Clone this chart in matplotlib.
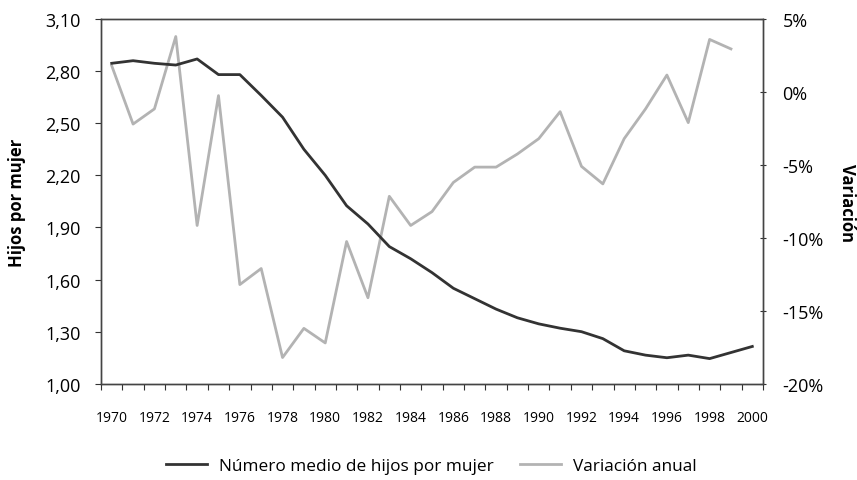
import matplotlib.pyplot as plt
from matplotlib import font_manager
import numpy as np

plt.rcParams['font.family'] = ['Open Sans', 'DejaVu Sans']

years = list(range(1970, 2001))
hijos = [2.845, 2.86, 2.845, 2.835, 2.87, 2.78, 2.78, 2.66, 2.535, 2.35,
         2.20, 2.025, 1.92, 1.79, 1.72, 1.64, 1.55, 1.49, 1.43, 1.38,
         1.345, 1.32, 1.30, 1.26, 1.19, 1.165, 1.15, 1.165, 1.145, 1.18,
         1.215]
variacion = [1.8, -2.2, -1.16, 3.8, -9.15, -0.25, -13.2, -12.1, -18.2, -16.2,
             -17.2, -10.25, -14.1, -7.15, -9.15, -8.2, -6.2, -5.15, -5.15, -4.25,
             -3.2, -1.35, -5.1, -6.3, -3.2, -1.16, 1.16, -2.1, 3.6, 2.95]
left_ticks = [1.00, 1.30, 1.60, 1.90, 2.20, 2.50, 2.80, 3.10]
right_ticks = [-20, -15, -10, -5, 0, 5]

# narrow font for the year labels if there is one
names = {f.name for f in font_manager.fontManager.ttflist}
if 'Liberation Sans Narrow' in names:
    xfont, xsize = 'Liberation Sans Narrow', 12
else:
    xfont, xsize = 'Open Sans', 10

fig = plt.figure(figsize=(8.57, 4.81), dpi=100)
ax = fig.add_axes([0.1179, 0.2, 0.7724, 0.7584])
ax2 = ax.twinx()

l1, = ax.plot(years, hijos, color='#333333', lw=2, zorder=3)
l2, = ax2.plot(years[:len(variacion)], variacion, color='#b3b3b3', lw=2)
ax.set_zorder(ax2.get_zorder() + 1)
ax.patch.set_visible(False)

ax.set_xlim(1969.5, 2000.5)
ax.set_ylim(1.0, 3.1)
ax2.set_ylim(-20, 5)

ax.set_yticks(left_ticks)
ax.set_yticklabels([('%.2f' % v).replace('.', ',') for v in left_ticks], fontsize=13)
ax2.set_yticks(right_ticks)
ax2.set_yticklabels(['%d%%' % v for v in right_ticks], fontsize=13)

ax.set_xticks(np.arange(1969.5, 2001, 1))
ax.set_xticklabels([])
ax.set_xticks(years[::2], minor=True)
ax.set_xticklabels([str(y) for y in years[::2]], minor=True,
                   fontsize=xsize, family=[xfont, 'DejaVu Sans'])
ax.tick_params(axis='x', which='major', length=4, direction='out', color='#333333')
ax.tick_params(axis='x', which='minor', length=0, pad=19)
ax.tick_params(axis='y', length=4, color='#333333', pad=10.8)
ax2.tick_params(axis='y', length=4, direction='inout', color='#333333', pad=12)

for a in (ax, ax2):
    for s in a.spines.values():
        s.set_color('#444444')
        s.set_linewidth(1.0)

fig.text(17 / 857, 0.579, 'Hijos por mujer', rotation=90, ha='center', va='center',
         fontsize=12, fontweight='bold')
fig.text(847 / 857, 0.579, 'Variación', rotation=-90, ha='center', va='center',
         fontsize=12, fontweight='bold')

fig.legend([l1, l2], ['Número medio de hijos por mujer', 'Variación anual'],
           loc='center', bbox_to_anchor=(0.503, 0.03), ncol=2, frameon=False,
           fontsize=12.4, handlelength=2.4, handletextpad=0.7, columnspacing=1.5,
           borderpad=0)

fig.savefig('out.png', dpi=100)
